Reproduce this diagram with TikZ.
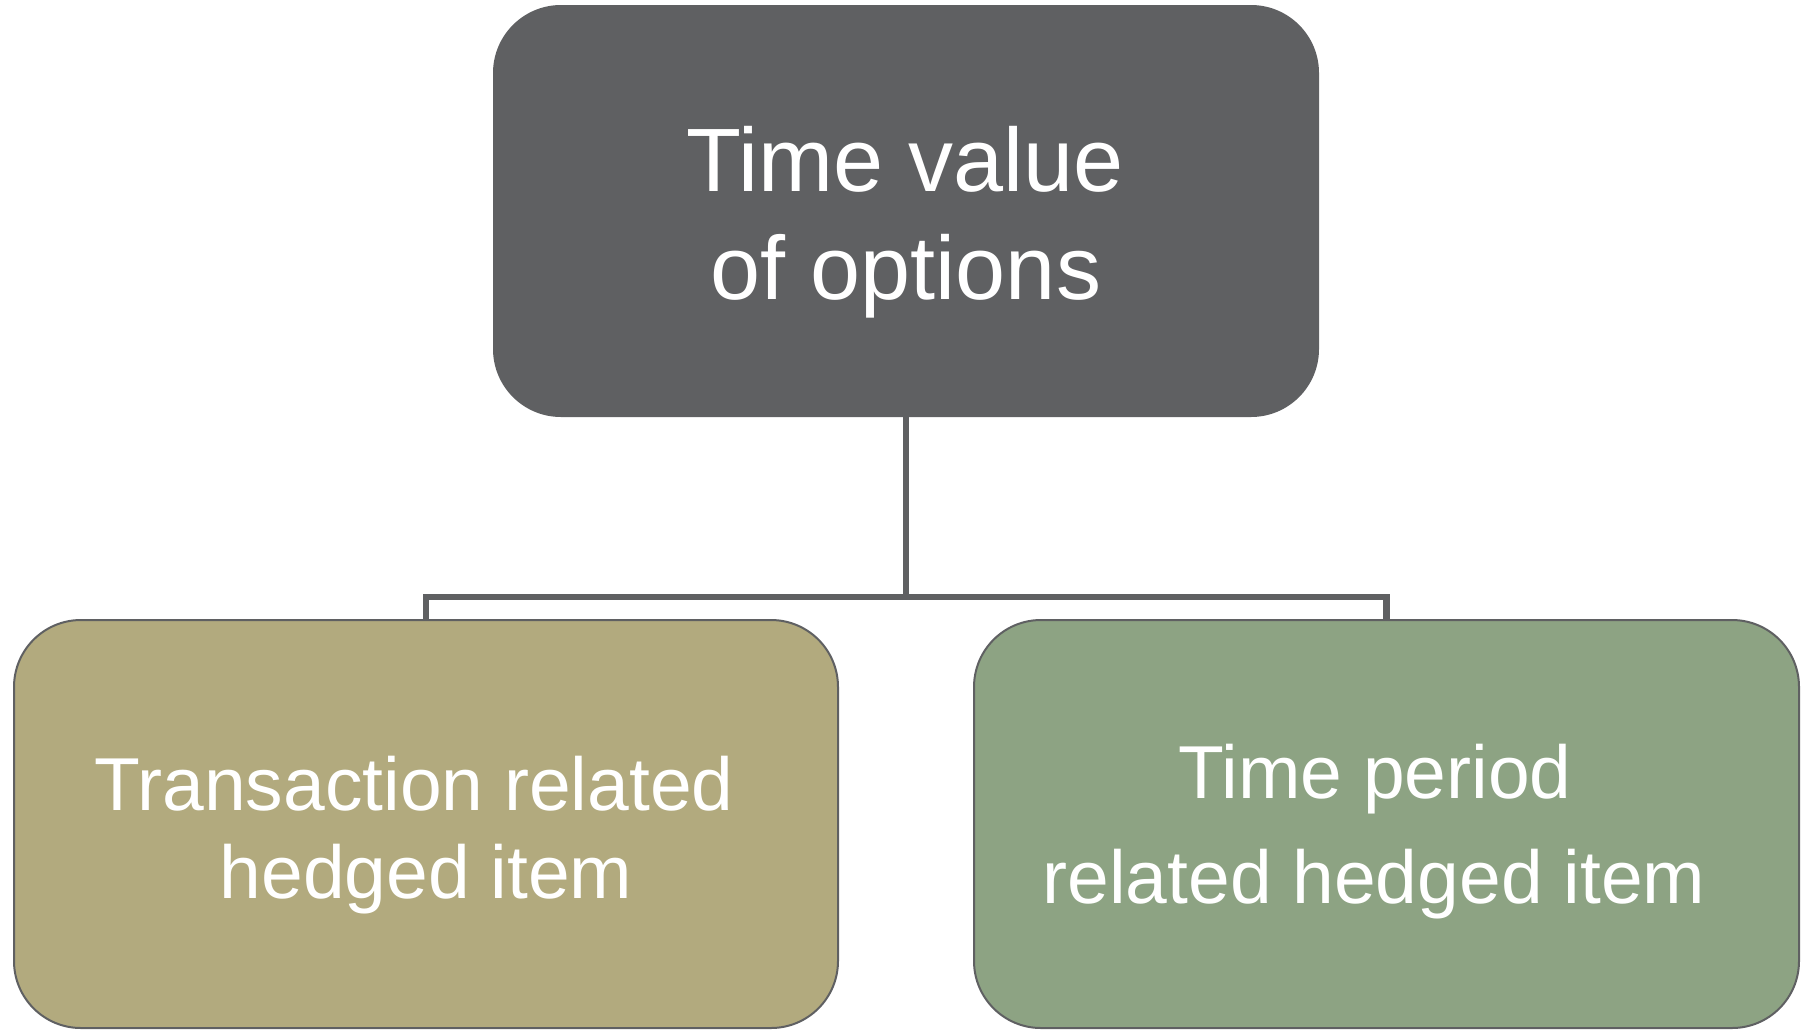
\documentclass[tikz,border=0pt]{standalone}
\usepackage{fontspec}
\setmainfont{Liberation Sans}
\definecolor{slategrey}{HTML}{5F6062}
\definecolor{khakifill}{HTML}{B2AA7E}
\definecolor{sagefill}{HTML}{8DA383}
\begin{document}
\begin{tikzpicture}[x=0.5pt,y=-0.5pt,
  box/.style={rectangle, rounded corners=33.5pt, minimum width=412pt,
              inner sep=0pt, line width=1pt, draw=slategrey},
  conn/.style={draw=slategrey, line width=3.3pt},
  bigtxt/.style={inner sep=0pt, anchor=base, text=white,
                 font=\fontsize{45}{54}\selectfont},
  smalltxt/.style={inner sep=0pt, anchor=base, text=white,
                   font=\fontsize{37.5}{45}\selectfont}]
\useasboundingbox (0,0) rectangle (1804,1029);

% boxes
\node[box, fill=slategrey, minimum height=205pt] (top) at (906,211) {};
\node[box, fill=khakifill, minimum height=204pt] (left) at (426,824) {};
\node[box, fill=sagefill, minimum height=204pt, minimum width=412.5pt] (right) at (1386.5,824) {};

% labels
\node[bigtxt] (top1) at (905,191) {Time value};
\node[bigtxt] (top2) at (906,299) {of options};
\node[smalltxt] (left1) at (414,810) {Transaction related};
\node[smalltxt] (left2) at (426,898) {hedged item};
\node[smalltxt] (right1) at (1375,798) {Time period};
\node[smalltxt] (right2) at (1374,903) {related hedged item};

% connectors
\coordinate (bus) at (906,597);
\draw[conn] (top.south) -- (bus) -| (left.north);
\draw[conn] (bus) -| (right.north);
\end{tikzpicture}
\end{document}
